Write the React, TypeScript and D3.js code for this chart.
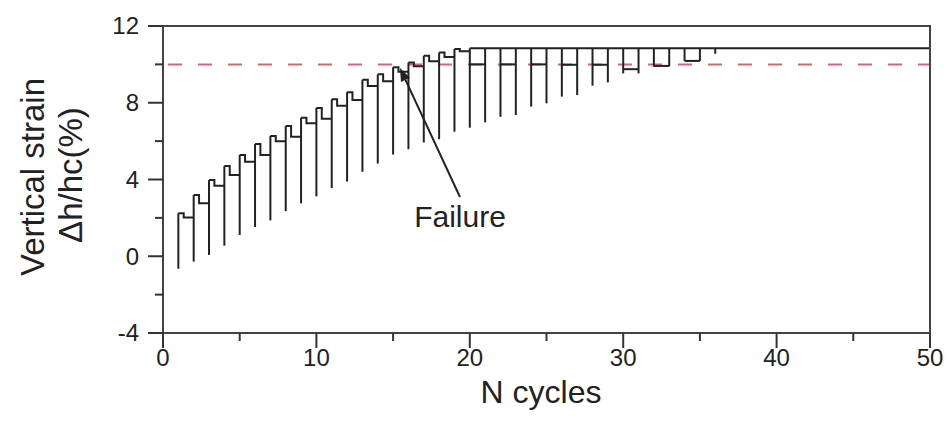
import React from "react";
import * as d3 from "d3";

// ---- data ----
const cycles = [1, 2, 3, 4, 5, 6, 7, 8, 9, 10, 11, 12, 13, 14, 15, 16, 17, 18, 19, 20, 21, 22, 23, 24, 25, 26, 27, 28, 29, 30, 31, 32, 33, 34, 35, 36];
// peak strain of each cycle (cycles 1-19); later cycles reach the cap
const peakStrain = [2.24, 3.19, 3.97, 4.7, 5.28, 5.85, 6.27, 6.79, 7.22, 7.73, 8.18, 8.55, 9.2, 9.48, 9.85, 10.1, 10.45, 10.62, 10.8];
// residual strain after the peak (cycles 1-19)
const residualStrain = [2.02, 2.76, 3.67, 4.24, 4.93, 5.28, 6.0, 6.23, 6.93, 7.16, 7.85, 8.14, 8.87, 9.12, 9.62, 9.9, 10.16, 10.38, 10.68];
// minimum strain of each cycle
const minStrain = [-0.65, -0.28, 0.07, 0.55, 1.11, 1.52, 1.87, 2.35, 2.76, 3.12, 3.55, 3.89, 4.4, 4.83, 5.3, 5.58, 5.93, 6.1, 6.49, 6.7, 6.98, 7.27, 7.36, 7.8, 7.97, 8.32, 8.4, 8.89, 9.06, 9.53, 9.53, 9.88, 9.9, 10.18, 10.18, 10.55];
const capStrain = 10.84;
const capStart = 20;
const capEnd = 50;
// cross bars between pairs of cycles
const barStartCycles = [20, 22, 24, 26, 28, 30, 32, 34];
const barLevels = [10.0, 10.0, 10.0, 9.98, 9.98, 9.75, 9.92, 10.18];
const failureLevel = 10;

const xMajorTicks = [0, 10, 20, 30, 40, 50];
const xMinorTicks = [5, 15, 25, 35, 45];
const yMajorTicks = [-4, 0, 4, 8, 12];
const yMinorTicks = [-2, 2, 6, 10];

const arrowTip = { x: 15.45, y: 9.81 };
const arrowTail = { x: 19.36, y: 3.09 };
const labelPos = { x: 19.36, y: 1.55 };

export default function App() {
  const W = 949, H = 432;
  const x = d3.scaleLinear().domain([0, 50]).range([163, 930]);
  const y = d3.scaleLinear().domain([-4, 12]).range([333, 26]);
  const ink = "#222";
  const font = "'Liberation Sans', Arial, sans-serif";

  const topOf = (i: number) => (i < peakStrain.length ? peakStrain[i] : capStrain);

  const vert = cycles.map((c, i) => {
    const p = d3.path();
    p.moveTo(x(c), y(minStrain[i]));
    p.lineTo(x(c), y(topOf(i)));
    return p.toString();
  });

  const steps = peakStrain.map((t, i) => {
    const c = cycles[i];
    const p = d3.path();
    p.moveTo(x(c), y(t));
    p.lineTo(x(c + 0.35), y(t));
    p.lineTo(x(c + 0.35), y(residualStrain[i]));
    p.lineTo(x(c + 1), y(residualStrain[i]));
    return p.toString();
  });

  const capLine = d3.line<number>()
    .x((d) => x(d))
    .y(() => y(capStrain))([capStart, capEnd]) as string;

  const bars = barStartCycles.map((c, i) =>
    d3.line<number>().x((d) => x(d)).y(() => y(barLevels[i]))([c, c + 1]) as string
  );

  // arrow head
  const tx = x(arrowTip.x), ty = y(arrowTip.y);
  const fx = x(arrowTail.x), fy = y(arrowTail.y);
  const ang = Math.atan2(ty - fy, tx - fx);
  const hl = 13, hw = 5;
  const bx = tx - hl * Math.cos(ang), by = ty - hl * Math.sin(ang);
  const head = `M${tx},${ty}L${bx + hw * Math.sin(ang)},${by - hw * Math.cos(ang)}L${bx - hw * Math.sin(ang)},${by + hw * Math.cos(ang)}Z`;

  return (
    <svg width={W} height={H} style={{ position: "absolute", left: 0, top: 0, background: "#fff" }} fontFamily={font}>
      {/* reference dashed line */}
      <line x1={x(0)} x2={x(50)} y1={y(failureLevel)} y2={y(failureLevel)} stroke="#e0606e" strokeWidth={2} strokeDasharray="14 16" strokeDashoffset={-5} />
      {/* data */}
      <g stroke={ink} strokeWidth={2} fill="none">
        {vert.map((d, i) => <path key={"v" + i} d={d} />)}
        {steps.map((d, i) => <path key={"s" + i} d={d} />)}
        <path d={capLine} />
        {bars.map((d, i) => <path key={"b" + i} d={d} />)}
      </g>
      {/* frame */}
      <rect x={x(0)} y={y(12)} width={x(50) - x(0)} height={y(-4) - y(12)} fill="none" stroke="#444" strokeWidth={2} />
      {/* y ticks */}
      <g stroke="#333" strokeWidth={2}>
        {yMajorTicks.map((t) => <line key={"ym" + t} x1={x(0) - 15} x2={x(0)} y1={y(t)} y2={y(t)} />)}
        {yMinorTicks.map((t) => <line key={"yn" + t} x1={x(0) - 8} x2={x(0)} y1={y(t)} y2={y(t)} />)}
        {xMajorTicks.map((t) => <line key={"xm" + t} x1={x(t)} x2={x(t)} y1={y(-4)} y2={y(-4) + 15} />)}
        {xMinorTicks.map((t) => <line key={"xn" + t} x1={x(t)} x2={x(t)} y1={y(-4)} y2={y(-4) + 8} />)}
      </g>
      <g fill="#222" fontSize={24}>
        {yMajorTicks.map((t) => (
          <text key={"yl" + t} x={x(0) - 24} y={y(t)} dy="0.35em" textAnchor="end">{t}</text>
        ))}
        {xMajorTicks.map((t) => (
          <text key={"xl" + t} x={x(t)} y={y(-4) + 33} textAnchor="middle">{t}</text>
        ))}
      </g>
      <text x={541} y={403} fontSize={32} textAnchor="middle" fill="#222">N cycles</text>
      <text transform="translate(44,177) rotate(-90)" fontSize={33} textAnchor="middle" fill="#222">Vertical strain</text>
      <text transform="translate(82,175) rotate(-90)" fontSize={33} textAnchor="middle" fill="#222">Δh/hc(%)</text>
      {/* annotation */}
      <line x1={fx} y1={fy} x2={bx} y2={by} stroke={ink} strokeWidth={2} />
      <path d={head} fill={ink} />
      <text x={x(labelPos.x)} y={y(labelPos.y)} fontSize={30} textAnchor="middle" fill="#222">Failure</text>
    </svg>
  );
}
